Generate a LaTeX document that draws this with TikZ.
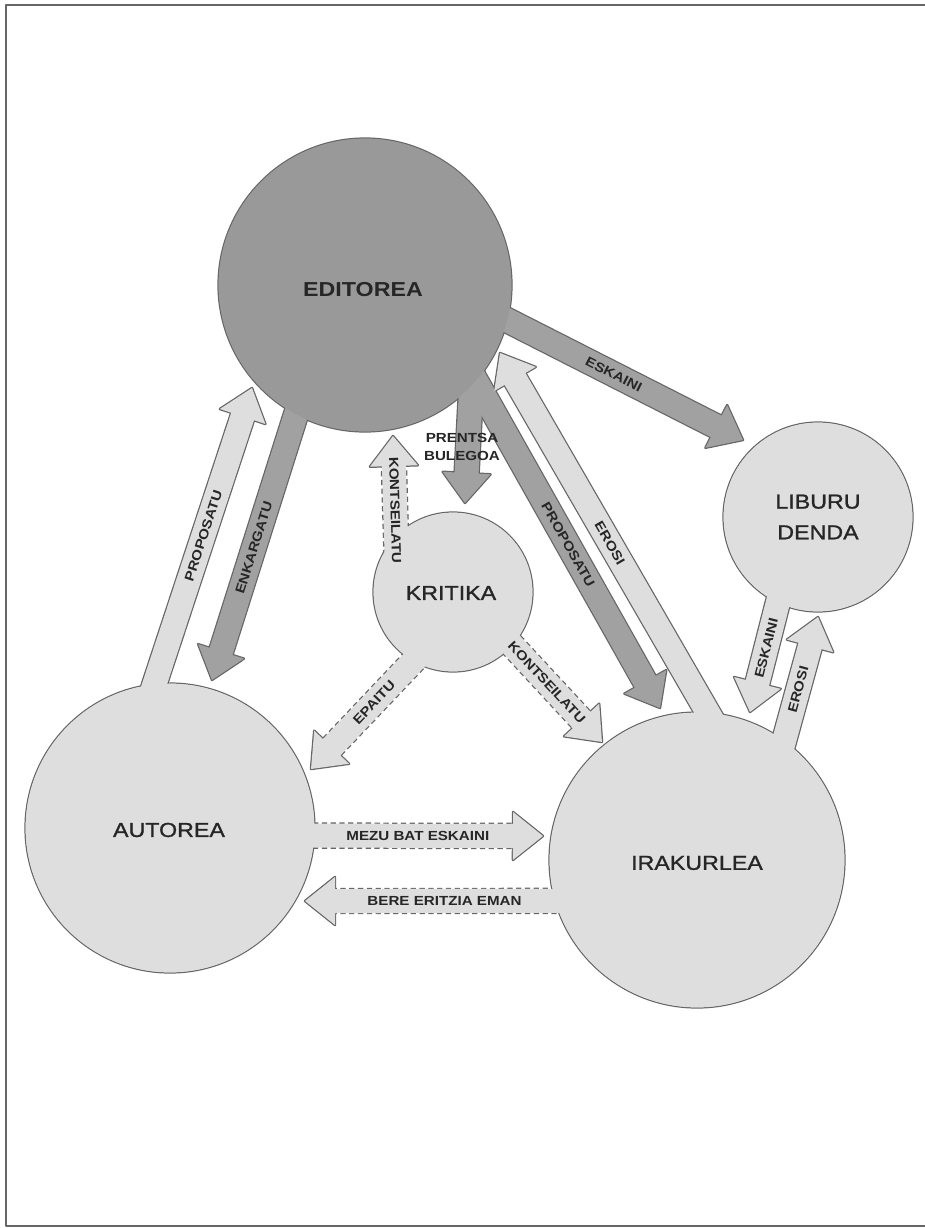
\documentclass[tikz,border=0pt]{standalone}
\usepackage{fontspec}
\usetikzlibrary{calc}
\newfontfamily\zirkfont{Liberation Sans}[FakeStretch=1.15]
\newfontfamily\zirkfontb{Liberation Sans}[FakeStretch=1.15,FakeBold=1.2]
\begin{document}
\begin{tikzpicture}[x=0.2mm,y=-0.2mm,line join=round]%liburu zirkulua
            \definecolor{ertz}{gray}{0.4}
            \definecolor{ilun}{gray}{0.6}
            \definecolor{ilungezi}{gray}{0.63}
            \definecolor{argi}{gray}{0.87}
            \tikzset{
                zirk/.style={circle,inner sep=0pt,draw=ertz,line width=0.7pt},
                izena/.style={font=\zirkfontb\fontsize{11.5}{17.5}\selectfont,text=black!85,align=center},
                gezitxt/.style={font=\zirkfont\bfseries\fontsize{7.5}{10.5}\selectfont,text=black!85,sloped,inner sep=0pt},
                osoa/.style={solid},
                etena/.style={dash pattern=on 3pt off 2pt}
            }
            \useasboundingbox (0,0) rectangle (925,1228);
            \draw[ertz,line width=1pt] (925,5)--(6,5)--(6,1226)--(925,1226);
            % zirkuluak
            \node[zirk,fill=ilun,minimum size=58.8mm] (edit) at (365,285) {};
            \node[zirk,fill=argi,minimum size=32mm] (krit) at (453,592) {};
            \node[zirk,fill=argi,minimum size=38mm] (lib) at (818,517) {};
            \node[zirk,fill=argi,minimum size=58mm] (aut) at (170,828) {};
            \node[zirk,fill=argi,minimum size=59.2mm] (irak) at (697,860) {};
            % gezi puntak
            \coordinate (t-esk) at (743,440);
            \coordinate (t-prop1) at (252,388);
            \coordinate (t-enk) at (212,680);
            \coordinate (t-kon1) at (393,436);
            \coordinate (t-pren) at (465,503);
            \coordinate (t-prop2) at (660,708);
            \coordinate (t-eros1) at (500,353);
            \coordinate (t-epa) at (311,769);
            \coordinate (t-kon2) at (602,742);
            \coordinate (t-mezu) at (543,836);
            \coordinate (t-bere) at (305,901);
            \coordinate (t-esk2) at (750,712);
            \coordinate (t-eros2) at (818,617);
            \def\gezik{
                ilungezi/osoa/edit.-14/t-esk/.45/ESKAINI,
                argi/osoa/aut.96/t-prop1/.5/PROPOSATU,
                ilungezi/osoa/edit.-118/t-enk/.5/ENKARGATU,
                argi/etena/krit.135/t-kon1/.25/KONTSEILATU,
                ilungezi/osoa/edit.-44/t-pren/.5/{},
                ilungezi/osoa/edit.-41/t-prop2/.5/PROPOSATU,
                argi/osoa/irak.86/t-eros1/.47/EROSI,
                argi/etena/krit.-120/t-epa/.38/EPAITU,
                argi/etena/krit.-42/t-kon2/.38/KONTSEILATU,
                argi/etena/aut.-3/t-mezu/.45/MEZU BAT ESKAINI,
                argi/etena/irak.196/t-bere/.44/BERE ERITZIA EMAN,
                argi/osoa/lib.-115/t-esk2/.41/ESKAINI,
                argi/osoa/irak.54/t-eros2/.41/EROSI}
            % ertzak
            \foreach \k/\m/\a/\b/\p/\t in \gezik {
                \coordinate (s) at ($(\a)!-4mm!(\b)$);
                \coordinate (h) at ($(\b)!6mm!(\a)$);
                \draw[ertz,line width=1.4pt,\m] ($(s)!2.4mm!90:(\b)$)--($(h)!2.4mm!90:(\b)$);
                \draw[ertz,line width=1.4pt,\m] ($(s)!2.4mm!-90:(\b)$)--($(h)!2.4mm!-90:(\b)$);
                \draw[ertz,line width=1.4pt] ($(h)!2.4mm!90:(\b)$)--($(h)!4.8mm!90:(\b)$)--(\b)
                    --($(h)!4.8mm!-90:(\b)$)--($(h)!2.4mm!-90:(\b)$);
            }
            % betegarria
            \foreach \k/\m/\a/\b/\p/\t in \gezik {
                \coordinate (s) at ($(\a)!-4mm!(\b)$);
                \coordinate (h) at ($(\b)!6mm!(\a)$);
                \fill[\k] ($(s)!2.4mm!90:(\b)$)--($(h)!2.4mm!90:(\b)$)--($(h)!4.8mm!90:(\b)$)--(\b)
                    --($(h)!4.8mm!-90:(\b)$)--($(h)!2.4mm!-90:(\b)$)--($(s)!2.4mm!-90:(\b)$)--cycle;
            }
            \fill[ilun] (edit) circle[radius=29.4mm-0.35pt];
            \fill[argi] (krit) circle[radius=16mm-0.35pt];
            \fill[argi] (lib) circle[radius=19mm-0.35pt];
            \fill[argi] (aut) circle[radius=29mm-0.35pt];
            \fill[argi] (irak) circle[radius=29.6mm-0.35pt];
            \node[izena,font=\zirkfont\bfseries\fontsize{11.5}{14}\selectfont] (edit-t) at (363,290) {EDITOREA};
            \node[izena] (krit-t) at (451,593) {KRITIKA};
            \node[izena] (lib-t) at (818,517) {LIBURU\\DENDA};
            \node[izena] (aut-t) at (169,830) {AUTOREA};
            \node[izena] (irak-t) at (697,863) {IRAKURLEA};
            \foreach \k/\m/\a/\b/\p/\t [count=\i] in \gezik {
                \path (\a)--(\b) node[gezitxt,pos=\p] (g\i) {\t};
            }
            \node[gezitxt,sloped=false,align=center] (pren-t) at (462,447) {PRENTSA\\BULEGOA};
\end{tikzpicture}
\end{document}
